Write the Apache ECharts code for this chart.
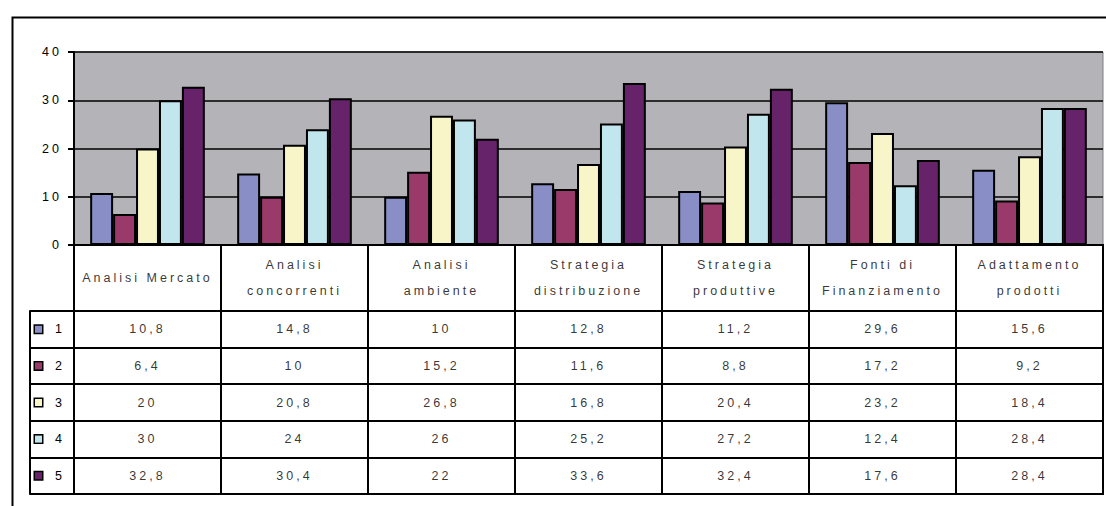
<!DOCTYPE html>
<html>
<head>
<meta charset="utf-8">
<script src="https://cdn.jsdelivr.net/npm/echarts@6/dist/echarts.min.js"></script>
<style>
  html, body { margin: 0; padding: 0; background: #fff; }
  #chart { width: 1106px; height: 506px; }
  #chart text { letter-spacing: 3px; }
</style>
</head>
<body>
<div id="chart"></div>
<script>
// ---- data ----
const categories = ['Analisi Mercato', 'Analisi\nconcorrenti', 'Analisi\nambiente', 'Strategia\ndistribuzione', 'Strategia\nproduttive', 'Fonti di\nFinanziamento', 'Adattamento\nprodotti'];
const seriesNames = ['1', '2', '3', '4', '5'];
const s1 = [10.8, 14.8, 10, 12.8, 11.2, 29.6, 15.6];
const s2 = [6.4, 10, 15.2, 11.6, 8.8, 17.2, 9.2];
const s3 = [20, 20.8, 26.8, 16.8, 20.4, 23.2, 18.4];
const s4 = [30, 24, 26, 25.2, 27.2, 12.4, 28.4];
const s5 = [32.8, 30.4, 22, 33.6, 32.4, 17.6, 28.4];
const yTicks = [0, 10, 20, 30, 40];

const seriesValues = [s1, s2, s3, s4, s5];
const colors = ['#8a8ec6', '#993a6b', '#f8f6c8', '#c2e6ee', '#66236a'];
const FONT = 'Liberation Sans, Arial, sans-serif';
const fmt = v => String(v).replace('.', ',');

const chart = echarts.init(document.getElementById('chart'), null, { renderer: 'svg' });

const barSeries = seriesValues.map((vals, i) => ({
  type: 'bar',
  name: seriesNames[i],
  xAxisIndex: 0, yAxisIndex: 0,
  data: vals,
  barGap: '0%',
  barCategoryGap: '22%',
  itemStyle: { color: colors[i], borderColor: '#000', borderWidth: 2 },
  silent: true
}));

const headerData = categories.map((c, i) => [i, 0]);
const cellData = [];
seriesValues.forEach((vals, si) => vals.forEach((v, ci) => cellData.push([ci, si, v])));

const rich = { t: { fontSize: 12.5, fontFamily: FONT, color: '#000', padding: [0, 0, 0, 13], verticalAlign: 'middle' } };
colors.forEach((c, i) => {
  rich['k' + i] = { width: 7, height: 7, backgroundColor: c, borderColor: '#000', borderWidth: 1.5, verticalAlign: 'middle' };
});

const option = {
  animation: false,
  backgroundColor: '#fff',
  textStyle: { fontFamily: FONT, fontSize: 12.5, color: '#000' },
  graphic: [{
    type: 'rect', left: 10, top: 15, silent: true,
    shape: { x: 0, y: 0, width: 1200, height: 600 },
    style: { fill: 'none', stroke: '#000', lineWidth: 2 }
  }],
  grid: [
    { left: 74, right: 3, top: 52, height: 193, show: true, backgroundColor: '#b4b4b8', borderColor: '#808080', borderWidth: 1, containLabel: false },
    { left: 74, right: 3, top: 245, height: 66, show: true, backgroundColor: '#fff', borderColor: '#000', borderWidth: 2, containLabel: false },
    { left: 74, right: 3, top: 311, height: 183, show: true, backgroundColor: '#fff', borderColor: '#000', borderWidth: 2, containLabel: false }
  ],
  xAxis: [
    { type: 'category', gridIndex: 0, data: categories, axisLabel: { show: false }, axisTick: { show: false },
      axisLine: { lineStyle: { color: '#000', width: 2 } } },
    { type: 'category', gridIndex: 1, data: categories, axisLabel: { show: false }, axisTick: { show: false },
      axisLine: { show: false }, splitLine: { show: true, interval: 0, lineStyle: { color: '#000', width: 2 } } },
    { type: 'category', gridIndex: 2, data: categories, axisLabel: { show: false }, axisTick: { show: false },
      axisLine: { show: false }, splitLine: { show: true, interval: 0, lineStyle: { color: '#000', width: 2 } } }
  ],
  yAxis: [
    { type: 'value', gridIndex: 0, min: yTicks[0], max: yTicks[yTicks.length - 1], interval: 10,
      axisLine: { show: true, lineStyle: { color: '#000', width: 2 } },
      axisTick: { show: true, length: 6, lineStyle: { color: '#000', width: 2 } },
      axisLabel: { margin: 12, fontSize: 12.5, fontFamily: FONT, color: '#000' },
      splitLine: { show: true, lineStyle: { color: '#000', width: 1.5 } } },
    { type: 'category', gridIndex: 1, data: ['h'], show: false },
    { type: 'category', gridIndex: 2, data: seriesNames, inverse: true,
      axisLine: { show: true, lineStyle: { color: '#000', width: 2 } },
      axisTick: { show: true, length: 44, interval: 0, lineStyle: { color: '#000', width: 2 } },
      splitLine: { show: true, interval: 0, lineStyle: { color: '#000', width: 2 } },
      axisLabel: { show: true, align: 'left', margin: 39, interval: 0,
        formatter: (v, idx) => '{k' + idx + '|}{t|' + v + '}', rich: rich } },
    { type: 'category', gridIndex: 2, data: seriesNames, inverse: true, position: 'left', offset: 44,
      axisLine: { show: true, lineStyle: { color: '#000', width: 2 } },
      axisTick: { show: false }, axisLabel: { show: false }, splitLine: { show: false } }
  ],
  series: barSeries.concat([
    { type: 'scatter', xAxisIndex: 1, yAxisIndex: 1, data: headerData, symbolSize: 1,
      itemStyle: { color: 'rgba(0,0,0,0)' }, silent: true,
      label: { show: true, position: 'inside', formatter: p => categories[p.dataIndex],
        fontSize: 12.5, fontFamily: FONT, color: '#000', lineHeight: 26, align: 'center', verticalAlign: 'middle' } },
    { type: 'scatter', xAxisIndex: 2, yAxisIndex: 2, data: cellData, symbolSize: 1,
      itemStyle: { color: 'rgba(0,0,0,0)' }, silent: true,
      label: { show: true, position: 'inside', formatter: p => fmt(p.value[2]),
        fontSize: 12.5, fontFamily: FONT, color: '#000', align: 'center', verticalAlign: 'middle' } }
  ])
};
chart.setOption(option);
</script>
</body>
</html>
